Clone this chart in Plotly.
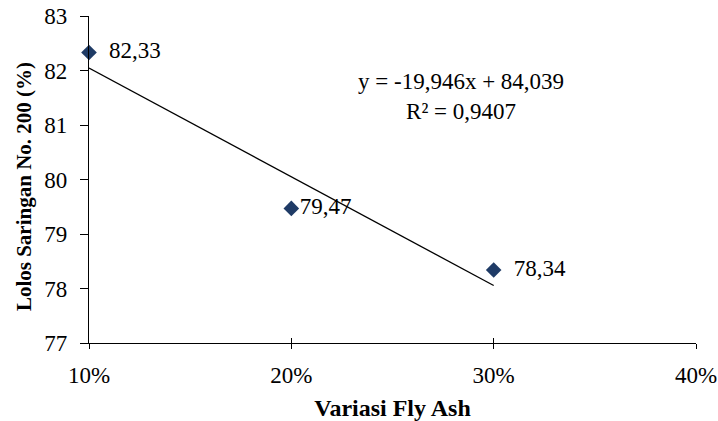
import plotly.graph_objects as go

fly_ash = [0.10, 0.20, 0.30]
lolos = [82.33, 79.47, 78.34]
labels = ["82,33", "79,47", "78,34"]
label_pad = ["  ", "", "  "]
slope = -19.946
intercept = 84.039
eq_text = "y = -19,946x + 84,039<br>R² = 0,9407"
x_ticks = [0.10, 0.20, 0.30, 0.40]
x_ticklabels = ["10%", "20%", "30%", "40%"]
y_ticks = [77, 78, 79, 80, 81, 82, 83]
y_title = "<b>Lolos Saringan No. 200 (%)</b>"
x_title = "<b>Variasi Fly Ash</b>"

FONT = "Liberation Serif"

trend_x = [fly_ash[0], fly_ash[-1]]
trend_y = [slope * v + intercept for v in trend_x]

fig = go.Figure()
fig.add_trace(go.Scatter(x=trend_x, y=trend_y, mode="lines",
                         line=dict(color="black", width=1.3), showlegend=False, hoverinfo="skip"))
fig.add_trace(go.Scatter(x=fly_ash, y=lolos, mode="markers+text",
                         marker=dict(symbol="diamond", size=12, color="#1F3B66"),
                         text=[p + t for p, t in zip(label_pad, labels)], textposition="middle right",
                         textfont=dict(family=FONT, size=23, color="black"),
                         showlegend=False, cliponaxis=False))
fig.add_trace(go.Scatter(x=[0.1], y=[77], xaxis="x2", mode="markers",
                         marker=dict(opacity=0), showlegend=False, hoverinfo="skip"))

fig.add_annotation(x=0.284, y=81.52, xref="x", yref="y", text=eq_text, showarrow=False,
                   font=dict(family=FONT, size=23, color="black"), align="center")
fig.add_annotation(x=-0.107, y=0.477, xref="paper", yref="paper", text=y_title, textangle=-90,
                   showarrow=False, xanchor="center", yanchor="middle",
                   font=dict(family=FONT, size=21, color="black"))

fig.update_layout(
    width=718, height=421,
    margin=dict(l=89, r=22, t=16, b=78),
    paper_bgcolor="white", plot_bgcolor="white",
    font=dict(family=FONT, size=23, color="black"),
    xaxis=dict(range=[0.1, 0.4], tickvals=x_ticks, ticktext=x_ticklabels, automargin=False,
               showgrid=False, zeroline=False, showline=True, linecolor="black", linewidth=1.3,
               ticks="outside", ticklen=5, tickcolor="black", tickwidth=1.3,
               ticklabelstandoff=6, ticklabeloverflow="allow",
               tickfont=dict(family=FONT, size=23),
               title=dict(text=x_title, font=dict(family=FONT, size=24), standoff=12)),
    xaxis2=dict(range=[0.1, 0.4], tickvals=x_ticks, overlaying="x", side="bottom", automargin=False,
                showticklabels=False, showgrid=False, zeroline=False, showline=False,
                ticks="inside", ticklen=5, tickcolor="black", tickwidth=1.3),
    yaxis=dict(range=[77, 83], tickvals=y_ticks, showgrid=False, zeroline=False, automargin=False,
               showline=True, linecolor="black", linewidth=1.3,
               ticks="outside", ticklen=8, tickcolor="black", tickwidth=1.3,
               ticklabelstandoff=8, ticklabeloverflow="allow",
               tickfont=dict(family=FONT, size=23)),
)

fig.write_html("out.html", config={"displayModeBar": False},
               post_script="document.body.style.margin='0';document.body.style.overflow='hidden';")
